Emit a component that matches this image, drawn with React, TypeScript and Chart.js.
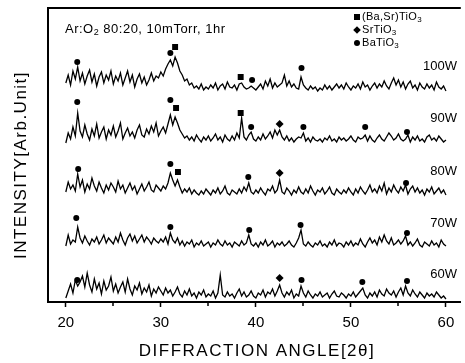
import React, { useEffect, useRef } from 'react';
import { Chart, registerables } from 'chart.js';

Chart.register(...registerables);

const FONT = '"Liberation Sans", Arial, Helvetica, sans-serif';

// scan grid (degrees 2θ)
const angleStart = 20;
const angleStep = 0.25;
const xMin = 18.125;
const xMax = 61.5625;
const minorTicks = [25, 35, 45, 55];

const seriesLabels = ['100W', '90W', '80W', '70W', '60W'];
const offsets = [209, 157, 104, 52, 1];
const labelLift = 27;

const w100 = [
  10, 18, 8, 22, 14, 26, 12, 20, 9, 17, 23, 11, 19, 7, 16, 21, 10, 18, 13, 22,
  9, 17, 12, 20, 8, 15, 22, 11, 18, 6, 14, 19, 10, 16, 8, 13, 20, 12, 17, 15,
  21, 17, 24, 29, 33, 27, 36, 30, 22, 18, 12, 14, 8, 10, 5, 7, 4, 9, 3, 6,
  4, 8, 5, 10, 3, 7, 9, 4, 11, 6, 5, 8, 3, 9, 10, 6, 4, 5, 7, 5,
  3, 6, 9, 4, 12, 7, 14, 5, 10, 6, 8, 10, 18, 7, 12, 6, 9, 5, 4, 16,
  8, 5, 3, 7, 4, 6, 2, 5, 3, 8, 4, 7, 3, 6, 9, 5, 8, 4, 10, 6,
  3, 7, 5, 9, 4, 11, 6, 8, 3, 7, 10, 5, 9, 6, 12, 7, 4, 10, 15, 8,
  13, 6, 11, 4, 9, 12, 5, 8, 3, 10, 6, 4, 9, 5, 8, 3, 11, 6, 4, 7,
  2,
];
const w90 = [
  2, 12, 6, 18, 9, 32, 14, 8, 20, 11, 5, 16, 9, 21, 7, 13, 18, 6, 15, 10,
  19, 8, 14, 22, 6, 12, 17, 9, 13, 7, 15, 20, 10, 8, 16, 11, 19, 13, 22, 9,
  14, 18, 12, 21, 30, 20, 28, 22, 15, 11, 7, 9, 5, 8, 4, 10, 6, 3, 8, 5,
  9, 4, 7, 11, 5, 8, 3, 10, 6, 4, 9, 5, 12, 7, 27, 8, 5, 10, 13, 6,
  4, 8, 5, 11, 6, 9, 13, 7, 15, 10, 15, 8, 5, 9, 4, 7, 3, 6, 8, 7,
  12, 4, 7, 3, 8, 5, 4, 6, 3, 7, 5, 9, 4, 6, 3, 8, 5, 7, 4, 6,
  9, 5, 3, 8, 6, 7, 10, 4, 9, 5, 3, 7, 10, 6, 4, 8, 12, 9, 5, 7,
  11, 6, 4, 6, 10, 3, 8, 5, 9, 4, 6, 3, 8, 10, 5, 7, 4, 9, 6, 3,
  5,
];
const w80 = [
  6, 16, 9, 13, 7, 24, 11, 18, 6, 14, 9, 20, 12, 7, 16, 10, 5, 13, 8, 15,
  11, 6, 17, 9, 13, 5, 10, 15, 8, 12, 4, 9, 14, 7, 11, 16, 8, 6, 13, 10,
  7, 12, 9, 15, 25, 18, 12, 18, 11, 5, 9, 6, 10, 4, 8, 5, 3, 7, 4, 9,
  6, 3, 8, 5, 10, 4, 7, 12, 5, 3, 8, 6, 4, 9, 5, 11, 7, 15, 6, 4,
  8, 5, 10, 6, 3, 9, 7, 12, 5, 8, 18, 6, 4, 10, 7, 3, 8, 5, 11, 6,
  4, 9, 5, 12, 7, 3, 8, 6, 10, 4, 7, 11, 5, 3, 9, 6, 4, 8, 5, 10,
  6, 3, 9, 5, 11, 7, 4, 8, 13, 6, 9, 5, 12, 7, 15, 4, 10, 6, 13, 8,
  5, 11, 7, 13, 4, 9, 12, 6, 10, 5, 8, 3, 9, 6, 11, 4, 7, 10, 5, 8,
  3,
];
const w70 = [
  4, 15, 6, 10, 8, 23, 12, 7, 14, 9, 5, 11, 8, 13, 6, 10, 15, 7, 12, 9,
  6, 13, 8, 17, 10, 5, 12, 16, 9, 14, 7, 11, 15, 8, 13, 10, 6, 12, 9, 7,
  11, 8, 13, 6, 17, 10, 7, 12, 5, 9, 4, 8, 6, 10, 3, 7, 5, 9, 4, 6,
  8, 3, 7, 5, 10, 6, 4, 9, 5, 7, 3, 8, 6, 4, 9, 5, 7, 15, 6, 4,
  7, 3, 8, 5, 10, 4, 6, 9, 3, 7, 5, 8, 4, 6, 9, 5, 3, 7, 12, 20,
  6, 4, 8, 5, 3, 7, 5, 9, 4, 6, 3, 8, 5, 10, 4, 7, 6, 3, 8, 5,
  9, 4, 7, 5, 11, 6, 3, 8, 12, 7, 10, 5, 13, 8, 15, 9, 6, 12, 5, 7,
  10, 6, 9, 14, 5, 8, 4, 7, 11, 5, 3, 8, 6, 4, 9, 5, 7, 3, 10, 6,
  4,
];
const w60 = [
  3, 10, 17, 8, 21, 15, 19, 25, 14, 28, 16, 9, 22, 12, 18, 7, 20, 11, 15, 24,
  10, 17, 8, 14, 19, 9, 22, 12, 6, 15, 11, 18, 7, 13, 9, 16, 5, 12, 8, 14,
  10, 6, 13, 8, 11, 5, 9, 14, 7, 4, 10, 6, 12, 5, 8, 3, 9, 6, 11, 4,
  7, 5, 10, 3, 8, 26, 6, 4, 9, 5, 7, 3, 8, 12, 5, 9, 4, 6, 10, 5,
  3, 8, 6, 11, 4, 9, 7, 12, 5, 10, 16, 8, 4, 9, 6, 11, 3, 7, 5, 15,
  8, 4, 10, 6, 3, 7, 5, 9, 4, 6, 8, 3, 7, 10, 5, 4, 8, 6, 3, 7,
  5, 9, 4, 7, 10, 13, 6, 3, 8, 5, 9, 4, 11, 7, 5, 12, 8, 6, 10, 4,
  9, 13, 6, 15, 8, 5, 11, 7, 4, 9, 6, 3, 8, 5, 7, 4, 9, 6, 3, 5,
  2,
];
const seriesValues = [w100, w90, w80, w70, w60];

// phase markers: [2θ, height]
const bstMarks = [[31.5, 255], [38.4, 225], [31.6, 194], [38.4, 189], [31.8, 130]];
const srMarks = [[42.5, 178], [42.5, 129], [42.5, 24]];
const baMarks = [
  [21.2, 240], [31.0, 249], [39.6, 222], [44.8, 234],
  [21.2, 200], [31.0, 202], [39.5, 175], [45.0, 175], [51.5, 175], [55.9, 170],
  [21.3, 133], [31.0, 138], [39.2, 125], [55.8, 119],
  [21.1, 84], [31.0, 75], [39.3, 72], [44.7, 77], [55.9, 69],
  [21.2, 22], [44.8, 22], [51.2, 20], [55.9, 21],
];

const legendParts = [
  [['(Ba,Sr)TiO', false], ['3', true]],
  [['SrTiO', false], ['3', true]],
  [['BaTiO', false], ['3', true]],
];
const conditionParts = [['Ar:O', false], ['2', true], [' 80:20, 10mTorr, 1hr', false]];
const xTitle = 'DIFFRACTION ANGLE[2\u03b8]';
const yTitle = 'INTENSITY[Arb.Unit]';

function drawParts(ctx: any, parts: any[], x: number, y: number, size: number, subSize: number, subDy: number) {
  let cx = x;
  for (const [t, sub] of parts) {
    ctx.font = `${sub ? subSize : size}px ${FONT}`;
    ctx.fillText(t, cx, y + (sub ? subDy : 0));
    cx += ctx.measureText(t).width;
  }
}

const decorPlugin = {
  id: 'decor',
  afterDraw(chart: any) {
    const { ctx, chartArea: a, scales } = chart;
    const xs = scales.x;
    const ys = scales.y;
    ctx.save();
    ctx.strokeStyle = '#000';
    ctx.fillStyle = '#000';
    ctx.lineWidth = 2;
    ctx.beginPath();
    ctx.moveTo(a.left, a.bottom + 1);
    ctx.lineTo(a.left, a.top);
    ctx.lineTo(a.right, a.top);
    ctx.stroke();

    ctx.lineWidth = 1.5;
    ctx.beginPath();
    for (const v of minorTicks) {
      const px = Math.round(xs.getPixelForValue(v));
      ctx.moveTo(px, a.bottom);
      ctx.lineTo(px, a.bottom + 4);
    }
    ctx.stroke();

    // series labels
    ctx.textBaseline = 'middle';
    ctx.textAlign = 'right';
    ctx.font = `13px ${FONT}`;
    seriesLabels.forEach((s, k) => {
      ctx.fillText(s, xs.getPixelForValue(60) + 11, ys.getPixelForValue(offsets[k] + labelLift));
    });

    // condition text
    ctx.textAlign = 'left';
    (ctx as any).letterSpacing = '0.5px';
    drawParts(ctx, conditionParts, a.left + 17, a.top + 21, 13, 9, 4);

    // legend
    const lx = 357;
    const ly = [17, 30, 43];
    ctx.fillRect(lx - 3, ly[0] - 3, 6, 6);
    ctx.beginPath();
    ctx.moveTo(lx - 3.8, ly[1]);
    ctx.lineTo(lx, ly[1] - 3.8);
    ctx.lineTo(lx + 3.8, ly[1]);
    ctx.lineTo(lx, ly[1] + 3.8);
    ctx.closePath();
    ctx.fill();
    ctx.beginPath();
    ctx.arc(lx, ly[2], 3, 0, Math.PI * 2);
    ctx.fill();
    (ctx as any).letterSpacing = '0.3px';
    legendParts.forEach((p, i) => drawParts(ctx, p, lx + 5, ly[i], 11, 8, 3));

    // axis titles
    (ctx as any).letterSpacing = '1.5px';
    ctx.font = `17px ${FONT}`;
    ctx.textAlign = 'center';
    ctx.fillText(xTitle, 257, 351);
    ctx.translate(21, 165);
    ctx.rotate(-Math.PI / 2);
    ctx.fillText(yTitle, 0, 0);
    ctx.restore();
  },
};

export default function App() {
  const ref = useRef<HTMLCanvasElement>(null);
  useEffect(() => {
    const datasets: any[] = seriesValues.map((vals, k) => ({
      label: seriesLabels[k],
      data: vals.map((v, i) => ({ x: angleStart + i * angleStep, y: offsets[k] + v })),
      showLine: true,
      borderColor: '#000',
      borderWidth: 1.3,
      pointRadius: 0,
      fill: false,
      tension: 0,
    }));
    datasets.push({
      label: '(Ba,Sr)TiO3',
      data: bstMarks.map(([x, y]) => ({ x, y })),
      pointStyle: 'rect', pointRadius: 4.2, backgroundColor: '#000', borderWidth: 0, showLine: false,
    });
    datasets.push({
      label: 'SrTiO3',
      data: srMarks.map(([x, y]) => ({ x, y })),
      pointStyle: 'rectRot', pointRadius: 4, backgroundColor: '#000', borderWidth: 0, showLine: false,
    });
    datasets.push({
      label: 'BaTiO3',
      data: baMarks.map(([x, y]) => ({ x, y })),
      pointStyle: 'circle', pointRadius: 3, backgroundColor: '#000', borderWidth: 0, showLine: false,
    });

    const chart = new Chart(ref.current as HTMLCanvasElement, {
      type: 'scatter',
      data: { datasets },
      options: {
        animation: false,
        responsive: false,
        events: [],
        layout: { padding: { left: 48, top: 8, right: 0, bottom: 24 } },
        plugins: { legend: { display: false }, tooltip: { enabled: false } },
        scales: {
          x: {
            type: 'linear',
            position: 'bottom',
            min: xMin,
            max: xMax,
            ticks: {
              stepSize: 10,
              includeBounds: false,
              autoSkip: false,
              maxRotation: 0,
              padding: 7,
              color: '#000',
              font: { family: FONT, size: 15 },
            },
            grid: {
              display: true,
              drawOnChartArea: false,
              drawTicks: true,
              tickLength: 5,
              tickWidth: 1.5,
              tickColor: '#000',
            },
            border: { display: true, color: '#000', width: 2 },
          },
          y: { type: 'linear', min: 0, max: 294, display: false },
        },
      } as any,
      plugins: [decorPlugin],
    });
    return () => chart.destroy();
  }, []);

  return (
    <div style={{ position: 'fixed', left: 0, top: 0, width: 465, height: 363, background: '#fff' }}>
      <canvas ref={ref} width={465} height={363} style={{ display: 'block' }} />
    </div>
  );
}
